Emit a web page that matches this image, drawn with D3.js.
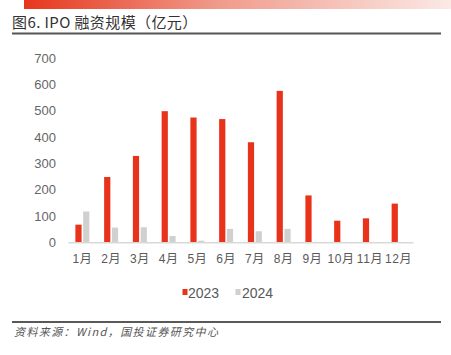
<!DOCTYPE html>
<html><head><meta charset="utf-8">
<script src="https://cdn.jsdelivr.net/npm/d3@7/dist/d3.min.js"></script>
<style>body{margin:0;background:#fff;}svg{display:block;}</style>
</head><body>
<svg id="c" width="451" height="355"></svg>
<script>
const months = ["1月","2月","3月","4月","5月","6月","7月","8月","9月","10月","11月","12月"];
const series = ["2023","2024"];
const v2023 = [67,248,328,498,474,468,380,575,178,82,91,147];
const v2024 = [117,56,57,24,6,51,42,51,null,null,null,null];
const yTicks = [0,100,200,300,400,500,600,700];
const colors = ["#e8321a","#d0d0d0"];
const title = "图6. IPO 融资规模（亿元）";
const source = "资料来源：Wind，国投证券研究中心";

const svg = d3.select("#c");
const font = "'Liberation Sans','Noto Sans CJK SC',sans-serif";

// top gradient band
const defs = svg.append("defs");
const g = defs.append("linearGradient").attr("id","tg").attr("x1","0").attr("x2","1");
g.append("stop").attr("offset","0").attr("stop-color","#e6371d");
g.append("stop").attr("offset","0.45").attr("stop-color","#f09a8a");
g.append("stop").attr("offset","1").attr("stop-color","#fbe9e6");
svg.append("rect").attr("x",24).attr("y",0).attr("width",427).attr("height",9).attr("fill","url(#tg)");

svg.append("text").attr("x",12).attr("y",28).attr("font-size",15).attr("fill","#333")
  .attr("letter-spacing",0.4)
  .attr("font-family","'Noto Sans CJK SC',sans-serif").text(title);
svg.append("line").attr("x1",12).attr("x2",441).attr("y1",33.5).attr("y2",33.5).attr("stroke","#555").attr("stroke-width",2);

const x = d3.scaleBand().domain(months).range([68,413]).paddingInner(0).paddingOuter(0);
const y = d3.scaleLinear().domain([0,700]).range([242.3,58]);
const x1 = d3.scaleBand().domain(series).range([0,x.bandwidth()]).paddingInner(0.2).paddingOuter(0.95);

// y axis
const ya = svg.append("g").attr("transform","translate(56,0)")
  .call(d3.axisLeft(y).tickValues(yTicks).tickSize(0).tickPadding(0));
ya.select(".domain").remove();
ya.selectAll("text").attr("font-size",13).attr("fill","#666").attr("font-family",font);

// bars
const data = [v2023, v2024];
series.forEach((s,si)=>{
  svg.append("g").selectAll("rect").data(months.map((m,i)=>({m, v:data[si][i]})).filter(d=>d.v!=null))
    .join("rect")
    .attr("x",d=>x(d.m)+x1(s))
    .attr("width",x1.bandwidth())
    .attr("y",d=>y(d.v))
    .attr("height",d=>y(0)-y(d.v))
    .attr("fill",colors[si]);
});

// x axis
const xa = svg.append("g").attr("transform","translate(0,242.3)")
  .call(d3.axisBottom(x).tickSize(0).tickPadding(12));
xa.select(".domain").attr("stroke","#d9d9d9").attr("stroke-width",1.5);
xa.selectAll("text").attr("font-size",12).attr("fill","#595959").attr("letter-spacing",0.6).attr("font-family",font);

// legend
const leg = [{x:182.5, tx:188},{x:235.5, tx:242}];
series.forEach((s,i)=>{
  svg.append("rect").attr("x",leg[i].x).attr("y",289).attr("width",5).attr("height",6).attr("fill",colors[i]);
  svg.append("text").attr("x",leg[i].tx).attr("y",297.5).attr("font-size",14).attr("fill","#595959")
    .attr("font-family",font).text(s);
});

// bottom
svg.append("line").attr("x1",12).attr("x2",441).attr("y1",322).attr("y2",322).attr("stroke","#222").attr("stroke-width",1.5);
svg.append("text").attr("x",14).attr("y",335.5).attr("font-size",11).attr("fill","#555")
  .attr("font-style","italic").attr("letter-spacing",1.4)
  .attr("font-family","'Noto Sans CJK SC',sans-serif").text(source);
</script>
</body></html>
